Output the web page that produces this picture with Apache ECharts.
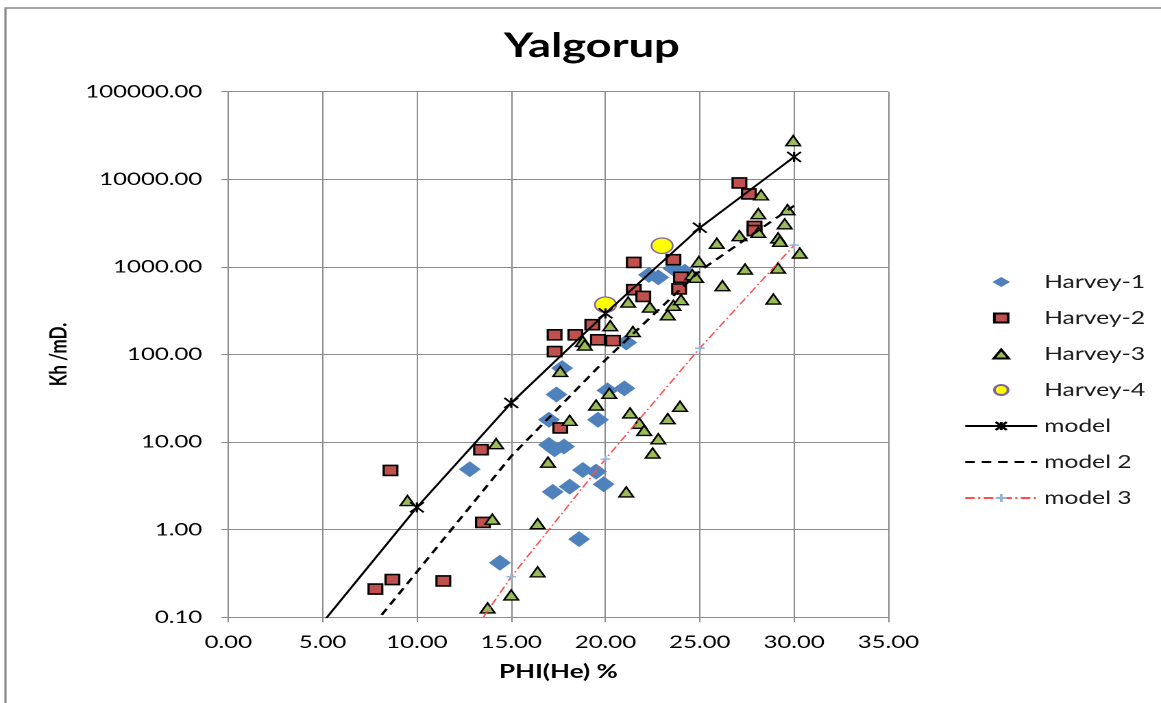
<!DOCTYPE html>
<html>
<head>
<meta charset="utf-8">
<title>Yalgorup</title>
<script src="https://cdn.jsdelivr.net/npm/echarts@6/dist/echarts.min.js"></script>
<style>
  html, body { margin: 0; padding: 0; background: #fff; overflow: hidden; }
  #wrap { width: 1161px; height: 703px; overflow: hidden; position: relative; background: #fff; }
  /* the drawing is laid out on a narrower canvas and widened to the page */
  #chart { width: 847px; height: 703px; transform: scaleX(1.37072); transform-origin: 0 0; }
</style>
</head>
<body>
<div id="wrap"><div id="chart"></div></div>
<script>
// horizontal widening factor of the canvas
const SX = 1161 / 847;
const px = v => v / SX;

// axis ranges
const phiRange = [0, 35];
const phiStep = 5;
const khRange = [0.1, 100000];

// core plug measurements: [PHI(He) %, Kh mD]
const harvey1 = [
  [12.8, 4.9], [14.4, 0.42], [17.0, 18], [17.0, 9.3], [17.3, 8.3], [17.8, 8.9],
  [17.4, 35], [17.7, 70], [17.2, 2.7], [18.1, 3.1], [18.8, 4.8], [19.5, 4.6],
  [19.9, 3.3], [18.6, 0.78], [19.6, 18], [20.1, 39], [21.0, 41], [21.1, 137],
  [22.3, 810], [22.8, 760], [23.6, 960], [24.2, 880]
];
const harvey2 = [
  [7.8, 0.21], [8.7, 0.27], [8.6, 4.75], [11.4, 0.26], [13.4, 8.2], [13.5, 1.21],
  [17.3, 168], [17.3, 108], [18.4, 168], [19.3, 219], [19.6, 147], [20.4, 144],
  [17.6, 14.5], [21.5, 1125], [21.5, 550], [22.0, 460], [23.6, 1210], [24.0, 760],
  [23.9, 560], [27.1, 9100], [27.6, 6800], [27.9, 2900], [27.9, 2600]
];
const harvey3 = [
  [9.5, 2.15], [14.2, 9.6], [14.0, 1.32], [16.95, 5.9], [16.4, 1.17], [16.4, 0.33],
  [15.0, 0.18], [13.75, 0.128], [17.6, 64], [18.1, 17.7], [19.5, 26.5], [20.2, 36],
  [21.3, 21.5], [21.8, 16.4], [22.05, 13.6], [23.3, 18.5], [23.95, 25.6], [22.8, 10.9],
  [22.5, 7.5], [21.1, 2.7], [20.25, 213], [18.8, 141], [18.9, 128], [21.2, 397],
  [22.35, 348], [21.45, 183], [23.3, 284], [23.6, 364], [24.0, 422], [24.6, 814],
  [24.8, 760], [24.95, 1150], [25.9, 1860], [26.2, 610], [27.1, 2270], [27.4, 946],
  [28.1, 2480], [28.1, 4050], [28.25, 6640], [28.9, 430], [29.15, 2140], [29.25, 1960],
  [29.15, 970], [29.5, 3100], [29.65, 4500], [30.3, 1440], [29.95, 27600]
];
const harvey4 = [[20.0, 370], [23.0, 1745]];

// permeability models
const modelPhi = [5, 10, 15, 20, 25, 30];
const modelKh = [0.087, 1.8, 28, 295, 2800, 18000];
const model2Phi = [5, 10, 15, 20, 25, 30];
const model2Kh = [0.016, 0.33, 6.9, 87, 900, 5000];
const model3Phi = [10, 15, 20, 25, 30];
const model3Kh = [0.008, 0.29, 6.4, 118, 1770];

const zip = (xs, ys) => xs.map((x, i) => [x, ys[i]]);

const FONT = 'Lato, "Liberation Sans", sans-serif';
const GRID = '#8c8c8c';
const STAR = 'path://M0,0L10,10M10,0L0,10M5,0L5,10';
const PLUS = 'path://M5,0L5,10M0,5L10,5';

// legend key box (drawing units) and marker outlines that fill it without distortion
const KEY_W = 72 / SX;
const KEY_H = 10;
const keyIcon = shape => {
  const c = KEY_W / 2;
  const frame = `M0,0M${KEY_W},${KEY_H}`;
  const body = {
    diamond: `M${c - 6.5},5L${c},0L${c + 6.5},5L${c},10Z`,
    square: `M${c - 5},0.5L${c + 5},0.5L${c + 5},9.5L${c - 5},9.5Z`,
    triangle: `M${c - 5.5},9.5L${c},0.5L${c + 5.5},9.5Z`
  }[shape];
  return `path://${frame}${body}`;
};

const chart = echarts.init(document.getElementById('chart'), null, { renderer: 'canvas', devicePixelRatio: 2 });

chart.setOption({
  animation: false,
  backgroundColor: '#ffffff',
  title: {
    text: 'Yalgorup',
    left: px(497),
    top: 25,
    textStyle: { fontFamily: FONT, fontSize: 33, fontWeight: 'bold', color: '#000' }
  },
  graphic: [{
    type: 'rect', silent: true, z: -10,
    shape: { x: px(5.5), y: 8, width: 3000, height: 3000 },
    style: { fill: 'none', stroke: '#8a8a8a', lineWidth: 1.6 }
  }],
  grid: {
    left: px(228.3), top: 91.7, width: px(888.4 - 228.3), height: 525.6,
    containLabel: false
  },
  legend: {
    orient: 'vertical',
    left: px(957), top: 267,
    itemWidth: KEY_W, itemHeight: KEY_H, itemGap: 16,
    textStyle: { fontFamily: FONT, fontSize: 18, color: '#1a1a1a', lineHeight: 20 },
    data: [
      { name: 'Harvey-1', icon: keyIcon('diamond') },
      { name: 'Harvey-2', icon: keyIcon('square') },
      { name: 'Harvey-3', icon: keyIcon('triangle') },
      'Harvey-4',
      'model',
      { name: 'model 2', itemStyle: { opacity: 0 } },
      'model 3'
    ]
  },
  xAxis: {
    type: 'value', min: phiRange[0], max: phiRange[1], interval: phiStep,
    name: 'PHI(He) %', nameLocation: 'middle', nameGap: 45,
    nameTextStyle: { fontFamily: FONT, fontSize: 19, fontWeight: 'bold', color: '#000' },
    axisLine: { show: true, onZero: false, lineStyle: { color: GRID, width: 1 } },
    axisTick: { show: true, length: 5, lineStyle: { color: GRID, width: 1 } },
    axisLabel: { formatter: v => v.toFixed(2), fontFamily: FONT, fontSize: 17.5, color: '#000', margin: 16 },
    splitLine: { show: true, lineStyle: { color: GRID, width: 1 } }
  },
  yAxis: {
    type: 'log', logBase: 10, min: khRange[0], max: khRange[1],
    name: 'Kh /mD.', nameLocation: 'middle', nameRotate: 90, nameGap: 112,
    nameTextStyle: { fontFamily: FONT, fontSize: 17, fontWeight: 'bold', color: '#000' },
    axisLine: { show: true, lineStyle: { color: GRID, width: 1 } },
    axisTick: { show: true, length: 5, lineStyle: { color: GRID, width: 1 } },
    axisLabel: { formatter: v => v.toFixed(2), fontFamily: FONT, fontSize: 17.5, color: '#000', margin: 19 },
    splitLine: { show: true, lineStyle: { color: GRID, width: 1 } }
  },
  series: [
    {
      name: 'Harvey-1', type: 'scatter', data: harvey1,
      symbol: 'diamond', symbolSize: 16,
      itemStyle: { color: '#4F81BD', opacity: 1 }
    },
    {
      name: 'Harvey-2', type: 'scatter', data: harvey2,
      symbol: 'rect', symbolSize: 10,
      itemStyle: { color: '#C0504D', borderColor: '#000', borderWidth: 1.6, opacity: 1 }
    },
    {
      name: 'Harvey-3', type: 'scatter', data: harvey3,
      symbol: 'triangle', symbolSize: [10.5, 10],
      itemStyle: { color: '#9BBB59', borderColor: '#000', borderWidth: 1.4, opacity: 1 }
    },
    {
      name: 'Harvey-4', type: 'scatter', data: harvey4,
      symbol: 'circle', symbolSize: 15.5,
      itemStyle: { color: '#FFFF00', borderColor: '#8064A2', borderWidth: 1.3, opacity: 1 }
    },
    {
      name: 'model', type: 'line', data: zip(modelPhi, modelKh),
      symbol: STAR, symbolSize: 10, clip: true,
      lineStyle: { color: '#000', width: 1.7 },
      itemStyle: { color: '#000', borderColor: '#000', borderWidth: 1.6 }
    },
    {
      name: 'model 2', type: 'line', data: zip(model2Phi, model2Kh),
      symbol: 'none', clip: true,
      lineStyle: { color: '#000', width: 2, type: [7, 5] },
      itemStyle: { color: '#000' }
    },
    {
      name: 'model 3', type: 'line', data: zip(model3Phi, model3Kh),
      symbol: PLUS, symbolSize: 7, clip: true,
      lineStyle: { color: '#FF4D4D', width: 1.2, type: [7, 2.5, 1.5, 2.5] },
      itemStyle: { color: '#95B3D7', borderColor: '#95B3D7', borderWidth: 1.5 }
    }
  ]
});
</script>
</body>
</html>
